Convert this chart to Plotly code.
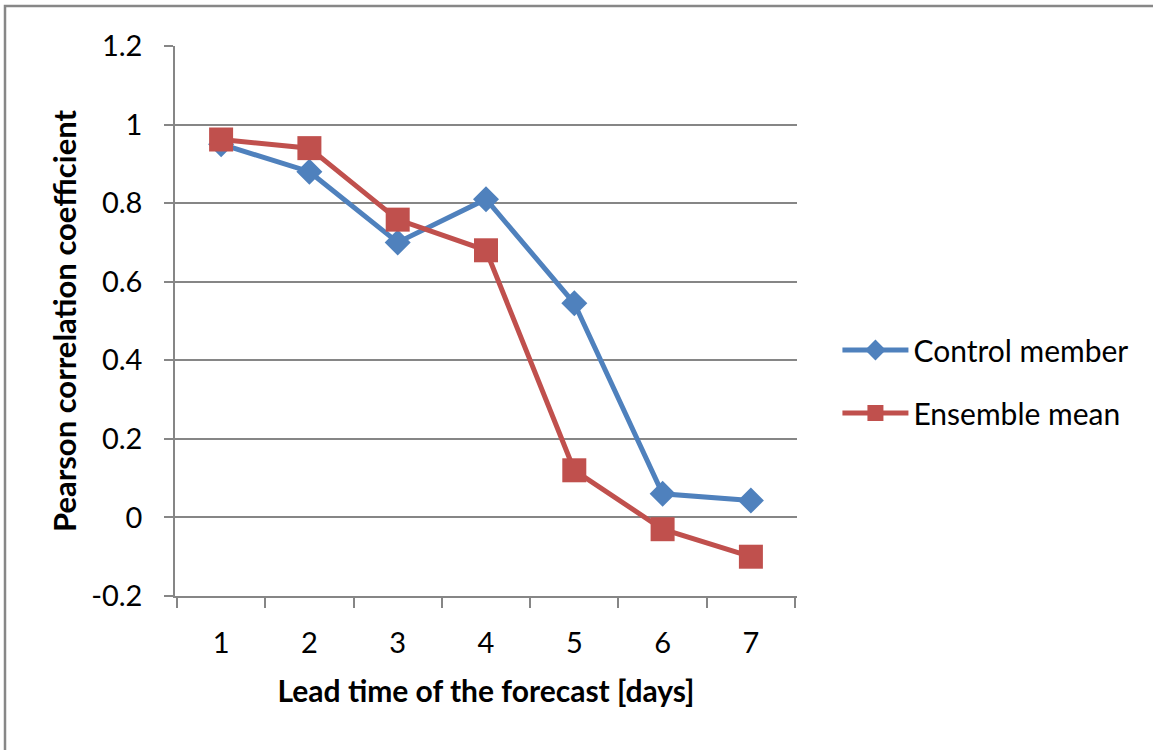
import plotly.graph_objects as go

lead_days = ["1", "2", "3", "4", "5", "6", "7"]
control_member = [0.95, 0.88, 0.70, 0.81, 0.545, 0.06, 0.043]
ensemble_mean = [0.962, 0.94, 0.758, 0.68, 0.12, -0.03, -0.10]
y_ticks = [-0.2, 0, 0.2, 0.4, 0.6, 0.8, 1.0, 1.2]
y_tick_text = ["-0.2", "0", "0.2", "0.4", "0.6", "0.8", "1", "1.2"]

BLUE = "#4F81BD"
RED = "#C0504D"
FONT = "Lato"

fig = go.Figure()
fig.add_trace(go.Scatter(
    x=lead_days, y=control_member, name="Control member", mode="lines+markers",
    line=dict(color=BLUE, width=5), marker=dict(symbol="diamond", size=20, color=BLUE),
    legendgroup="a"))
fig.add_trace(go.Scatter(
    x=lead_days, y=ensemble_mean, name="Ensemble mean", mode="lines+markers",
    line=dict(color=RED, width=5), marker=dict(symbol="square", size=24, color=RED),
    legendgroup="b"))

fig.update_layout(
    width=1153, height=750,
    margin=dict(l=175, r=356, t=46, b=154),
    paper_bgcolor="white", plot_bgcolor="white",
    font=dict(family=FONT, color="black", size=29),
    showlegend=True,
    legend=dict(x=1.065, y=0.39, xanchor="left", yanchor="middle",
                font=dict(size=30, family=FONT), tracegroupgap=21, itemwidth=66),
    xaxis=dict(type="category", showgrid=False, showline=True, linecolor="#868686", linewidth=1.5,
               ticks="outside", tickson="boundaries", ticklen=10, tickcolor="#868686", tickwidth=1.5,
               tickfont=dict(size=29), ticklabelstandoff=20,
               title=dict(text="<b>Lead time of the forecast [days]</b>", font=dict(size=30), standoff=23)),
    yaxis=dict(range=[-0.2, 1.2], tickvals=y_ticks, ticktext=y_tick_text,
               showgrid=True, gridcolor="#868686", gridwidth=1.5,
               showline=True, linecolor="#868686", linewidth=1.5, zeroline=False,
               ticks="outside", ticklen=9, tickcolor="#868686", tickwidth=1.5,
               tickfont=dict(size=29), ticklabelstandoff=16,
               title=dict(text="<b>Pearson correlation coefficient</b>", font=dict(size=31), standoff=5)),
)

# outer frame (top and left visible edges)
fig.add_shape(type="rect", xref="paper", yref="paper",
              x0=(5 - 175) / 622, x1=(1170 - 175) / 622,
              y0=(596 - 770) / 550, y1=(596 - 6) / 550,
              line=dict(color="#878787", width=2.5), fillcolor="rgba(0,0,0,0)", layer="below")

fig.write_html("out.html")
